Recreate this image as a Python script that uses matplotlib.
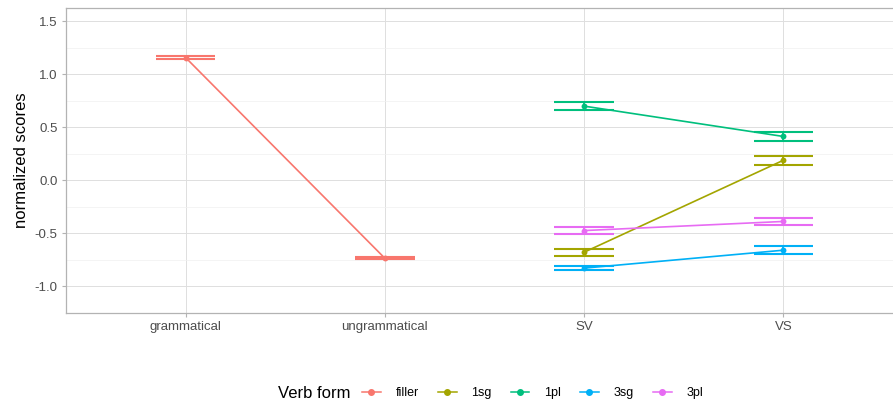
import matplotlib
matplotlib.use("Agg")
import matplotlib.pyplot as plt
from matplotlib.lines import Line2D
import numpy as np

plt.rcParams['font.family'] = ['Liberation Sans', 'DejaVu Sans']

categories = ["grammatical", "ungrammatical", "SV", "VS"]
series_names = ["filler", "1sg", "1pl", "3sg", "3pl"]
colors = ["#F8766D", "#A3A500", "#00BF7D", "#00B0F6", "#E76BF3"]

series_x = {
    "filler": ["grammatical", "ungrammatical"],
    "1sg": ["SV", "VS"],
    "1pl": ["SV", "VS"],
    "3sg": ["SV", "VS"],
    "3pl": ["SV", "VS"],
}
series_mean = {
    "filler": [1.158, -0.734],
    "1sg": [-0.677, 0.19],
    "1pl": [0.70, 0.414],
    "3sg": [-0.827, -0.658],
    "3pl": [-0.473, -0.387],
}
series_lower = {
    "filler": [1.140, -0.744],
    "1sg": [-0.710, 0.142],
    "1pl": [0.662, 0.368],
    "3sg": [-0.845, -0.695],
    "3pl": [-0.509, -0.425],
}
series_upper = {
    "filler": [1.175, -0.724],
    "1sg": [-0.644, 0.232],
    "1pl": [0.743, 0.458],
    "3sg": [-0.809, -0.620],
    "3pl": [-0.443, -0.350],
}
yticks = [-1.0, -0.5, 0.0, 0.5, 1.0, 1.5]

W, H = 893, 407
fig = plt.figure(figsize=(W / 100, H / 100), dpi=100)
ax = fig.add_axes([66 / W, 1 - 313 / H, (903 - 66) / W, (313 - 8) / H])

ax.set_xlim(0.4, 4.6)
ax.set_ylim(-1.125, 1.625)

pos = {c: i + 1 for i, c in enumerate(categories)}

for name, col in zip(series_names, colors):
    xs = np.array([pos[c] for c in series_x[name]])
    m = np.array(series_mean[name])
    lo = np.array(series_lower[name])
    hi = np.array(series_upper[name])
    ax.plot(xs, m, color=col, lw=1.2, zorder=3)
    ax.errorbar(xs, m, yerr=[m - lo, hi - m], fmt='none', ecolor=col,
                elinewidth=1.3, capsize=0, zorder=4)
    for x, l, h in zip(xs, lo, hi):
        ax.hlines([l, h], x - 0.15, x + 0.15, color=col, lw=1.5, zorder=4)
    ax.scatter(xs, m, s=18, color=col, zorder=5, linewidths=0)

ax.set_xticks(range(1, len(categories) + 1))
ax.set_xticklabels(categories)
ax.set_yticks(yticks)
ax.set_yticklabels([f"{v:.1f}" for v in yticks])
ax.set_yticks(np.arange(-1.25, 1.75, 0.25), minor=True)

ax.grid(True, which='major', color='#DEDEDE', lw=0.7, zorder=0)
ax.grid(True, which='minor', axis='y', color='#F0F0F0', lw=0.5, zorder=0)
ax.set_axisbelow(True)
for s in ax.spines.values():
    s.set_color('#B3B3B3')
    s.set_linewidth(0.9)
ax.tick_params(axis='both', which='major', length=3, color='#B3B3B3',
               labelsize=9.5, labelcolor='#4D4D4D', pad=3)
ax.tick_params(axis='both', which='minor', length=0)

ax.set_ylabel("normalized scores", fontsize=12, color='black', labelpad=4)

fig.text(278 / W, 1 - 393 / H, "Verb form", fontsize=12, va='center', ha='left')
handles = [Line2D([0], [0], color=c, lw=1.1, marker='o', markersize=4)
           for c in colors]
fig.legend(handles, series_names, loc='center left',
           bbox_to_anchor=(362 / W, 1 - 393 / H), ncol=5, frameon=False,
           fontsize=9, handlelength=1.5, handletextpad=1.2,
           columnspacing=1.5, borderpad=0, borderaxespad=0)

fig.savefig("out.png", dpi=100)
